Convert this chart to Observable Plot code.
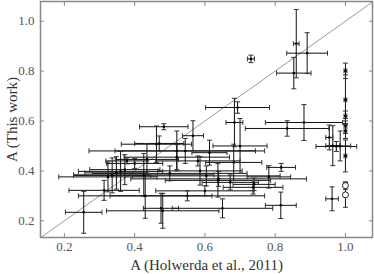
<!DOCTYPE html>
<html><head><meta charset="utf-8">
<script src="https://cdn.jsdelivr.net/npm/d3@7"></script>
<script src="https://cdn.jsdelivr.net/npm/@observablehq/plot@0.6"></script>
<style>
body{margin:0;background:#fff;}
g[aria-label="x-axis label"] text, g[aria-label="y-axis label"] text{font-size:15px;fill:#333;}
g[aria-label="x-axis tick label"] text, g[aria-label="y-axis tick label"] text{font-size:13px;fill:#555;}
</style></head><body><div id="chart"></div>
<script>
// Filled points: A (Holwerda et al., 2011), A (This work) and their errors
const xs   = [0.255,0.313,0.324,0.336,0.348,0.360,0.372,0.378,0.400,0.426,0.430,0.435,0.470,0.483,0.462,0.480,0.475,0.520,0.544,0.566,0.586,0.604,0.613,0.637,0.639,0.650,0.672,0.682,0.684,0.693,0.700,0.737,0.740,0.782,0.817,0.816,0.834,0.882,0.731,0.860,0.853,0.891,1.000,1.000,1.000,1.000,1.000,0.954,0.964,0.974,0.985,1.000,0.962,0.550,0.580,0.520,0.500,0.600];
const ys   = [0.234,0.322,0.376,0.382,0.392,0.398,0.405,0.440,0.430,0.384,0.300,0.446,0.510,0.577,0.507,0.240,0.250,0.480,0.480,0.541,0.400,0.380,0.473,0.362,0.368,0.250,0.354,0.434,0.594,0.654,0.500,0.334,0.346,0.376,0.414,0.262,0.570,0.594,0.849,0.910,0.792,0.872,0.801,0.685,0.620,0.580,0.560,0.534,0.501,0.498,0.500,0.460,0.288,0.300,0.440,0.455,0.390,0.320];
const xerr = [0.052,0.100,0.140,0.110,0.090,0.120,0.100,0.060,0.080,0.200,0.190,0.090,0.070,0.069,0.100,0.160,0.050,0.250,0.200,0.030,0.120,0.210,0.050,0.150,0.250,0.143,0.080,0.080,0.024,0.091,0.077,0.085,0.060,0.062,0.041,0.044,0.119,0.110,0.010,0.008,0.049,0.058,0.004,0.004,0.004,0.004,0.004,0.010,0.020,0.058,0.030,0.004,0.018,0.220,0.120,0.150,0.220,0.140];
const yerr = [0.084,0.040,0.060,0.070,0.065,0.080,0.060,0.012,0.020,0.086,0.090,0.063,0.030,0.012,0.073,0.070,0.060,0.080,0.050,0.060,0.057,0.040,0.050,0.067,0.030,0.038,0.030,0.073,0.097,0.023,0.110,0.027,0.025,0.045,0.016,0.053,0.031,0.072,0.015,0.137,0.063,0.082,0.031,0.100,0.020,0.030,0.030,0.050,0.080,0.020,0.060,0.064,0.048,0.020,0.020,0.050,0.030,0.020];
// Open points
const openX = [1.000, 1.000];
const openY = [0.341, 0.304];
const openYerr = [0.015, 0.050];
// Axes
const xDomain = [0.132, 1.077];
const yDomain = [0.133, 1.079];
const xTicks = [0.2, 0.4, 0.6, 0.8, 1.0];
const yTicks = [0.2, 0.4, 0.6, 0.8, 1.0];
const diag = [0.13, 1.08];

const pts = xs.map((x, i) => ({x, y: ys[i], xe: xerr[i], ye: yerr[i]}));
const opens = openX.map((x, i) => ({x, y: openY[i], xe: 0, ye: openYerr[i]}));
const allBars = pts.concat(opens);
const diagData = diag.map(v => ({x: v, y: v}));

const vbar = {draw(ctx, size){ const h = Math.sqrt(size/Math.PI); ctx.moveTo(0,-h); ctx.lineTo(0,h); }};
const hbar = {draw(ctx, size){ const h = Math.sqrt(size/Math.PI); ctx.moveTo(-h,0); ctx.lineTo(h,0); }};
const fmt = d => d.toFixed(1);
const ink = "#111";

const chart = Plot.plot({
  width: 374, height: 274,
  marginLeft: 40, marginRight: 2, marginTop: 1, marginBottom: 37,
  style: {background: "#fff", overflow: "visible", fontFamily: "'Liberation Serif', serif"},
  x: {domain: xDomain},
  y: {domain: yDomain},
  marks: [
    Plot.line(diagData, {x: "x", y: "y", stroke: "#999", strokeWidth: 1, clip: true}),
    Plot.link(allBars.filter(d => d.xe > 0), {x1: d => d.x - d.xe, x2: d => d.x + d.xe, y1: "y", y2: "y", stroke: ink, strokeWidth: 1}),
    Plot.link(allBars, {x1: "x", x2: "x", y1: d => d.y - d.ye, y2: d => d.y + d.ye, stroke: ink, strokeWidth: 1}),
    Plot.dot(allBars.filter(d => d.xe > 0), {x: d => d.x - d.xe, y: "y", symbol: vbar, r: 2.5, stroke: "#333", strokeWidth: 1}),
    Plot.dot(allBars.filter(d => d.xe > 0), {x: d => d.x + d.xe, y: "y", symbol: vbar, r: 2.5, stroke: "#333", strokeWidth: 1}),
    Plot.dot(allBars, {x: "x", y: d => d.y - d.ye, symbol: hbar, r: 2.5, stroke: "#333", strokeWidth: 1}),
    Plot.dot(allBars, {x: "x", y: d => d.y + d.ye, symbol: hbar, r: 2.5, stroke: "#333", strokeWidth: 1}),
    Plot.dot(pts, {x: "x", y: "y", r: 1.3, fill: "#000", stroke: "none"}),
    Plot.dot(opens, {x: "x", y: "y", r: 3, fill: "#fff", stroke: "#222", strokeWidth: 1}),
    Plot.axisX(xTicks, {anchor: "bottom", tickSize: -4, tickPadding: 8, tickFormat: fmt, stroke: "#888", label: "A (Holwerda et al., 2011)", labelAnchor: "center", labelOffset: 32, labelArrow: "none"}),
    Plot.axisX(xTicks, {anchor: "top", tickSize: -4, tickFormat: () => "", stroke: "#888", label: null}),
    Plot.axisY(yTicks, {anchor: "left", tickSize: -4, tickPadding: 10, tickFormat: fmt, stroke: "#888", label: "A (This work)", labelAnchor: "center", labelOffset: 34, labelArrow: "none"}),
    Plot.axisY(yTicks, {anchor: "right", tickSize: -4, tickFormat: () => "", stroke: "#888", label: null}),
    Plot.frame({stroke: "#888", strokeWidth: 1.5})
  ]
});
document.getElementById("chart").appendChild(chart);
</script></body></html>
